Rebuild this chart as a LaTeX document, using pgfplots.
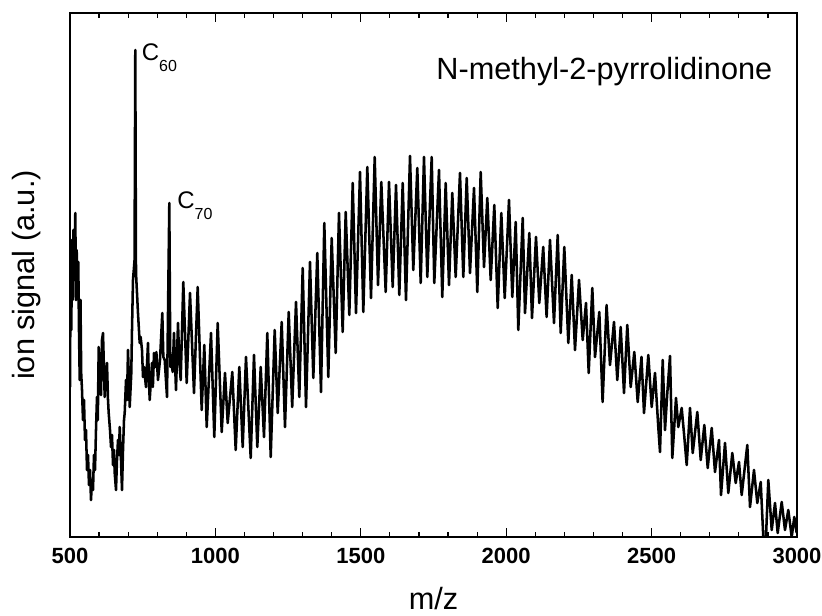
\documentclass[border=0pt]{standalone}
\usepackage{pgfplots}
\pgfplotsset{compat=1.18}
\usepackage{pgfplotstable}
\usepackage{fontspec}
\setmainfont{Liberation Sans}

\pgfplotstableread{
mz sig
500 150
502.1 280
504.5 207
506.9 297
509.3 237
512.0 307
514.4 257
518.2 324
520.6 237
523.0 287
525.8 247
528.5 275
530.9 207
533.4 157
536.1 237
538.5 164
541.3 147
544.7 117
548.1 137
551.6 97
555.0 107
558.5 67
561.9 82
565.3 52
568.8 67
572.2 37
575.7 57
579.1 47
582.5 82
586.0 67
589.4 107
592.8 140
595.6 117
598.7 190
601.4 157
604.2 177
606.6 142
610.0 197
613.5 204
616.9 167
619.3 140
622.1 157
627.2 174
630.7 137
633.1 124
637.6 107
641.0 90
644.4 102
647.9 72
651.3 87
653.7 64
658.2 47
661.6 77
665.1 97
668.5 82
670.9 110
675.4 77
678.8 47
682.3 87
685.7 117
688.1 124
692.6 157
696.0 137
699.5 187
705.3 130
710.8 164
713.2 207
716.6 257
722.0 277
724.5 487
727.0 264
733.8 224
739.7 194
743.0 200
747.6 187
751.0 160
754.5 170
761.3 150
768.2 194
771.0 160
774.1 137
782.0 174
785.0 150
788.9 184
793.3 170
797.0 185
802.6 157
809.5 177
817.4 224
821.0 180
825.7 177
833.6 140
841.5 334
845.0 170
848.4 180
853.0 165
857.6 204
864.5 147
871.4 214
876.0 175
880.7 157
889.6 255
901.3 154
912.7 244
926.4 144
939.1 250
952.9 127
961.8 192
970.1 110
984.9 204
996.2 100
1007.9 214
1021.7 105
1033.0 164
1042.3 114
1058.1 165
1069.8 87
1082.2 170
1093.9 90
1105.2 180
1121.4 79
1132.7 182
1144.1 90
1155.8 170
1167.1 100
1178.5 204
1190.2 80
1203.9 207
1214.3 124
1228.0 215
1239.3 110
1252.1 225
1264.1 130
1277.2 235
1288.5 140
1300.2 269
1311.6 130
1325.3 275
1336.7 159
1350.4 284
1363.1 145
1374.5 314
1388.2 160
1399.9 299
1413.7 184
1425.0 324
1437.7 205
1448.1 325
1460.5 222
1472.2 354
1483.5 224
1497.3 365
1508.6 225
1522.4 370
1535.1 239
1547.8 380
1559.2 252
1570.5 355
1585.6 245
1597.0 355
1609.7 250
1621.1 352
1632.4 242
1644.1 354
1655.4 237
1669.2 381
1680.5 267
1694.3 369
1706.0 254
1717.3 380
1728.7 260
1743.8 380
1752.7 254
1768.9 367
1780.2 240
1791.9 354
1803.3 252
1814.6 344
1826.3 260
1841.1 364
1852.5 260
1864.2 359
1875.5 264
1889.3 349
1900.6 245
1912.3 365
1923.7 270
1935.0 339
1946.7 257
1959.1 332
1970.8 229
1983.2 324
1994.9 239
2009.6 337
2021.0 240
2032.7 315
2041.6 207
2056.8 319
2064.7 224
2079.5 304
2088.7 219
2102.5 300
2113.8 234
2127.3 290
2139.0 220
2150.6 297
2164.4 214
2177.1 302
2187.4 204
2199.8 290
2213.6 194
2225.3 262
2236.6 187
2250.4 257
2263.1 197
2274.4 234
2283.7 164
2296.1 249
2305.4 180
2320.2 225
2331.5 135
2345.2 232
2356.9 172
2370.7 215
2382.0 157
2393.7 210
2405.1 144
2416.4 212
2428.1 150
2440.5 185
2452.2 135
2465.2 180
2473.9 124
2488.7 182
2500.3 130
2511.7 164
2523.0 110
2528.9 85
2538.2 177
2546.1 107
2554.0 144
2563.3 181
2571.2 79
2583.9 139
2591.8 110
2603.5 129
2612.5 100
2620.7 72
2632.1 129
2641.4 84
2657.2 125
2668.9 77
2681.3 112
2693.0 69
2706.7 109
2718.0 65
2731.8 97
2738.7 42
2752.4 94
2763.8 44
2777.5 84
2789.2 54
2800.5 75
2809.8 42
2829.1 92
2838.4 30
2852.1 67
2863.5 34
2875.2 55
2884.1 0
2893.4 0
2901.3 57
2913.0 7
2924.4 34
2933.6 4
2947.4 35
2958.7 7
2970.1 27
2981.8 0
2990.7 20
2999.0 4
}\spectrum

\begin{document}
\begin{tikzpicture}
\useasboundingbox (-52.5pt,-58.5pt) rectangle (564pt,402.75pt);
\begin{axis}[
  at={(0,0)}, anchor=south west,
  scale only axis,
  width=545.25pt, height=393pt,
  xmin=500, xmax=3000, ymin=0, ymax=524,
  xtick={500,1000,1500,2000,2500,3000},
  xticklabels={500,1000,1500,2000,2500,3000},
  minor x tick num=4,
  ytick=\empty,
  xtick pos=both,
  tick align=inside,
  major tick length=7pt,
  minor tick length=4pt,
  every tick/.style={line width=0.9pt, black},
  axis line style={line width=1.4pt},
  xticklabel style={font=\fontsize{16.5}{16.5}\selectfont\bfseries, anchor=base, yshift=-19.5pt},
  xlabel={m/z},
  ylabel={ion signal (a.u.)},
  xlabel style={font=\fontsize{23}{23}\selectfont, at={(axis description cs:0.5,-0.139)}, anchor=base},
  ylabel style={font=\fontsize{23}{23}\selectfont, at={(axis description cs:-0.0495,0.5)}, anchor=base},
  clip=true,
]
\addplot[black, line width=1.9pt, line join=round, mark=none] table[x=mz, y=sig] {\spectrum};
\node[anchor=base east, font=\fontsize{23}{23}\selectfont] at (axis cs:2931,457) {N-methyl-2-pyrrolidinone};
\node[anchor=base west, font=\fontsize{18}{18}\selectfont, inner sep=0pt] at (axis cs:746,476) {C\raisebox{-8.2pt}{\fontsize{12}{12}\selectfont 60}};
\node[anchor=base west, font=\fontsize{18}{18}\selectfont, inner sep=0pt] at (axis cs:868,328) {C\raisebox{-8.2pt}{\fontsize{12}{12}\selectfont 70}};
\end{axis}
\end{tikzpicture}
\end{document}
